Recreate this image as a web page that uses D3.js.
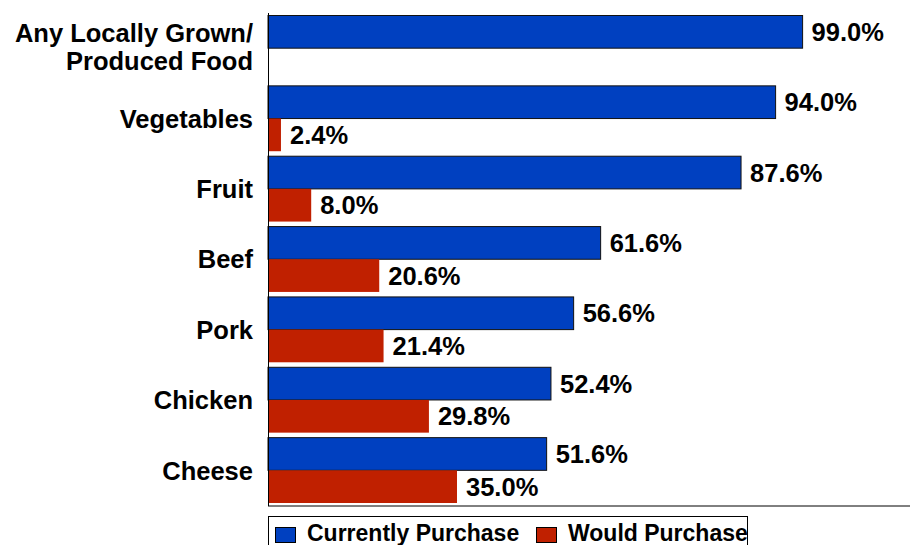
<!DOCTYPE html>
<html>
<head>
<meta charset="utf-8">
<script src="https://cdn.jsdelivr.net/npm/d3@7"></script>
<style>
  html, body { margin: 0; padding: 0; background: #fff; }
  svg { display: block; font-family: "Liberation Sans", Arial, sans-serif; font-weight: bold; }
</style>
</head>
<body>
<svg id="chart" width="910" height="545"></svg>
<script>
const categories = [
  ["Any Locally Grown/", "Produced Food"],
  ["Vegetables"], ["Fruit"], ["Beef"], ["Pork"], ["Chicken"], ["Cheese"]
];
const seriesNames = ["Currently Purchase", "Would Purchase"];
const currentlyPurchase = [99.0, 94.0, 87.6, 61.6, 56.6, 52.4, 51.6];
const wouldPurchase = [null, 2.4, 8.0, 20.6, 21.4, 29.8, 35.0];
const seriesColors = ["#0040C0", "#C02000"];

const svg = d3.select("#chart");
const plotLeft = 268, plotTop = 13, plotBottom = 505.5;

const x = d3.scaleLinear().domain([0, 100]).range([plotLeft, plotLeft + 540]);
const y0 = d3.scaleBand().domain(d3.range(categories.length)).range([plotTop, plotBottom]).padding(0);
const y1 = d3.scaleBand().domain([0, 1]).range([2.5, y0.bandwidth() - 2.5]).padding(0);

const rows = categories.map((c, i) => ({ i, label: c, vals: [currentlyPurchase[i], wouldPurchase[i]] }));

const g = svg.append("g");
rows.forEach(r => {
  r.vals.forEach((v, s) => {
    if (v == null) return;
    const yy = y0(r.i) + y1(s);
    g.append("rect")
      .attr("x", x(0))
      .attr("y", yy)
      .attr("width", x(v) - x(0))
      .attr("height", y1.bandwidth())
      .attr("fill", seriesColors[s])
      .attr("stroke", s === 0 ? "#111" : "none")
      .attr("stroke-width", 1);
    g.append("text")
      .attr("x", x(v) + 9)
      .attr("y", yy + y1.bandwidth() / 2)
      .attr("dy", "0.36em")
      .attr("font-size", 25.5)
      .attr("fill", "#000")
      .text(d3.format(".1f")(v) + "%");
  });
});

// category labels
rows.forEach(r => {
  const n = r.label.length;
  const cy = y0(r.i) + y0.bandwidth() / 2 - (n > 1 ? 1.5 : 0);
  const lh = 28;
  const t = svg.append("text")
    .attr("text-anchor", "end")
    .attr("font-size", 25.5)
    .attr("fill", "#000");
  r.label.forEach((line, k) => {
    t.append("tspan")
      .attr("x", plotLeft - 15)
      .attr("y", cy + (k - (n - 1) / 2) * lh)
      .attr("dy", "0.36em")
      .text(line);
  });
});

// axes lines
svg.append("line").attr("x1", plotLeft + 0.5).attr("x2", plotLeft + 0.5).attr("y1", plotTop).attr("y2", plotBottom + 0.5)
  .attr("stroke", "#000").attr("stroke-width", 1);
svg.append("line").attr("x1", plotLeft).attr("x2", 910).attr("y1", plotBottom + 0.5).attr("y2", plotBottom + 0.5)
  .attr("stroke", "#000").attr("stroke-width", 1);

// legend
const lg = svg.append("g");
lg.append("rect").attr("x", 268.5).attr("y", 516.5).attr("width", 479).attr("height", 40)
  .attr("fill", "#fff").attr("stroke", "#000").attr("stroke-width", 1);
const legX = [275, 536];
seriesNames.forEach((name, s) => {
  lg.append("rect").attr("x", legX[s] + 0.5).attr("y", 527.5).attr("width", 20).attr("height", 15)
    .attr("fill", seriesColors[s]).attr("stroke", "#000").attr("stroke-width", 1);
  lg.append("text").attr("x", legX[s] + 32).attr("y", 541).attr("font-size", 23).attr("fill", "#000").text(name);
});
</script>
</body>
</html>
